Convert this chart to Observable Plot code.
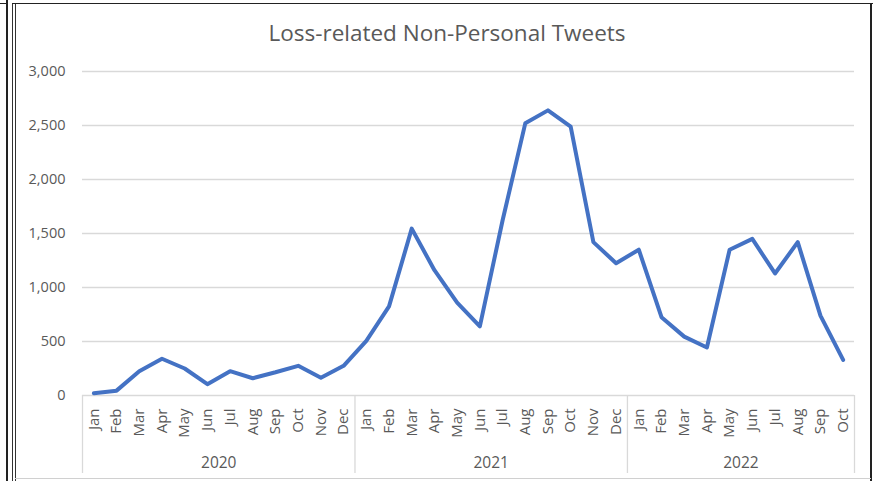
<!DOCTYPE html>
<html>
<head>
<meta charset="utf-8">
<script src="https://cdn.jsdelivr.net/npm/d3@7"></script>
<script src="https://cdn.jsdelivr.net/npm/@observablehq/plot@0.6"></script>
<style>
  html, body { margin: 0; padding: 0; background: #fff; }
  #wrap { position: relative; width: 876px; height: 481px; overflow: hidden; font-family: "Open Sans", sans-serif; }
  .ln { position: absolute; }
  #title { position: absolute; left: 19px; width: 856px; top: 19px; text-align: center; font-size: 22.5px; line-height: 28px; color: #595959; }
  #chart { position: absolute; left: 0; top: 0; }
</style>
</head>
<body>
<div id="wrap">
  <div id="chart"></div>
  <div id="title">Loss-related Non-Personal Tweets</div>
  <div class="ln" style="left:6px;top:0;width:2px;height:481px;background:#222"></div>
  <div class="ln" style="left:0;top:3px;width:8px;height:1px;background:#222"></div>
  <div class="ln" style="left:12px;top:3px;width:1px;height:478px;background:#333"></div>
  <div class="ln" style="left:15px;top:3px;width:1px;height:478px;background:#333"></div>
  <div class="ln" style="left:12px;top:3px;width:861px;height:1px;background:#222"></div>
  <div class="ln" style="left:870px;top:3px;width:2px;height:478px;background:#222"></div>
  <div class="ln" style="left:15px;top:478px;width:856px;height:1px;background:#d0d0d0"></div>
</div>
<script>
// ---- data ----
const years = ["2020", "2021", "2022"];
const monthsPerYear = [12, 12, 10];
const monthNames = ["Jan","Feb","Mar","Apr","May","Jun","Jul","Aug","Sep","Oct","Nov","Dec"];
const values = [
  20, 45, 225, 340, 250, 105, 225, 160, 215, 275, 165, 275,
  505, 825, 1545, 1160, 860, 640, 1620, 2520, 2640, 2490, 1420, 1225,
  1350, 725, 545, 445, 1350, 1450, 1130, 1420, 740, 330
];
const yTicks = [0, 500, 1000, 1500, 2000, 2500, 3000];

// ---- build tables ----
const rows = [];
const yearRows = [];
const bounds = [-0.5];
let idx = 0;
years.forEach((yr, k) => {
  const start = idx;
  for (let m = 0; m < monthsPerYear[k]; m++) {
    rows.push({ i: idx, month: monthNames[m], year: yr, value: values[idx] });
    idx++;
  }
  yearRows.push({ year: yr, mid: (start + idx - 1) / 2 });
  bounds.push(idx - 0.5);
});

const chart = Plot.plot({
  width: 876,
  height: 481,
  marginTop: 71,
  marginLeft: 82,
  marginRight: 22,
  marginBottom: 86,
  style: { fontFamily: "Open Sans, sans-serif", fontSize: "14.5px", color: "#595959", background: "transparent", overflow: "visible" },
  x: { type: "linear", domain: [-0.5, values.length - 0.5], axis: null },
  y: { domain: [0, 3000], ticks: yTicks, tickFormat: d3.format(",d"), tickSize: 0, tickPadding: 17, label: null },
  marks: [
    Plot.ruleY(yTicks, { y: d => d, stroke: "#d9d9d9", strokeWidth: 1.3 }),
    Plot.ruleX(bounds, { x: d => d, y1: 0, y2: 0, insetBottom: -78, stroke: "#d9d9d9", strokeWidth: 1.3 }),
    Plot.text(rows, { x: "i", y: 0, text: "month", rotate: -90, textAnchor: "end", dy: 13, fill: "#595959", fontSize: 15 }),
    Plot.text(yearRows, { x: "mid", y: 0, text: "year", dy: 68, fill: "#595959", fontSize: 15.5 }),
    Plot.line(rows, { x: "i", y: "value", stroke: "#4472c4", strokeWidth: 4, strokeLinejoin: "round", strokeLinecap: "round" })
  ]
});
document.getElementById("chart").appendChild(chart);
</script>
</body>
</html>
